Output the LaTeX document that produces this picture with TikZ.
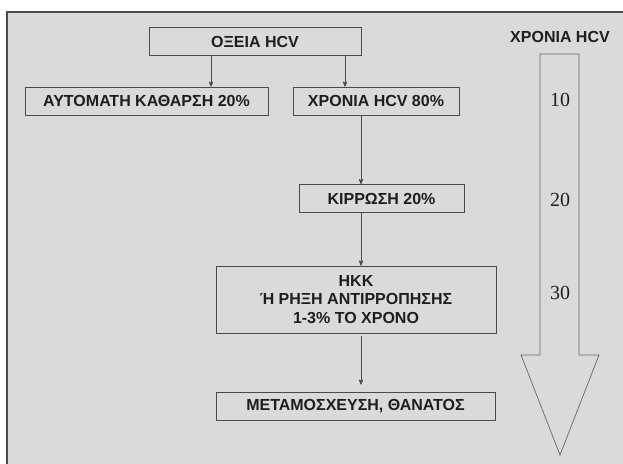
\documentclass[tikz,border=0pt]{standalone}
\usepackage{fontspec}
\setmainfont{Liberation Sans}
\newfontfamily\numfont{Liberation Serif}
\usepackage{tikz}
\usetikzlibrary{arrows}
\definecolor{bg}{HTML}{D9DADC}
\definecolor{boxline}{HTML}{4A4A4A}
\definecolor{ink}{HTML}{1E1E1E}

\begin{document}
\begin{tikzpicture}
    %[x=1pt,y=-1pt,->,>=stealth',every node/.style={draw}]
    [x=1pt,y=-1pt,->,>=stealth',shorten >=0pt,color=boxline,line width=0.8pt,
     every node/.style={rectangle,draw=boxline,fill=bg,text=ink,inner sep=0pt,
       font=\fontsize{16}{18.5}\selectfont\bfseries,minimum height=28pt}]
    \clip (0,0) rectangle (623,463);
    \fill[white] (0,0) rectangle (623,463);
    \draw[-,draw=black!70,fill=bg,line width=1.5pt] (7,12) rectangle (640,480);

    \node[minimum width=212pt] (nacute) at (255,41.5) {ΟΞΕΙΑ HCV};
    \node[minimum width=243pt] (nclear) at (146.5,101) {ΑΥΤΟΜΑΤΗ ΚΑΘΑΡΣΗ 20\%};
    \node[minimum width=166pt] (nchron) at (376,101) {ΧΡΟΝΙΑ HCV 80\%};
    \node[minimum width=165pt] (ncirr) at (381.5,198.5) {ΚΙΡΡΩΣΗ 20\%};
    \node[minimum width=280pt,minimum height=67pt,align=center] (nhcc) at (356,299.5)
      {ΗΚΚ\\Ή ΡΗΞΗ ΑΝΤΙΡΡΟΠΗΣΗΣ\\1-3\% ΤΟ ΧΡΟΝΟ};
    \node[minimum width=279pt] (ntrans) at (355.5,406) {ΜΕΤΑΜΟΣΧΕΥΣΗ, ΘΑΝΑΤΟΣ};
    \coordinate (spine) at (361,0);

    \path ([xshift=-44pt]nacute.south) edge ([xshift=-44pt]nacute.south |- nclear.north);
    \path ([xshift=90pt]nacute.south) edge ([xshift=90pt]nacute.south |- nchron.north);
    \path (nchron.south -| spine) edge (ncirr.north -| spine);
    \path (ncirr.south -| spine) edge (nhcc.north -| spine);
    \path[shorten <=3pt,shorten >=7pt] (nhcc.south -| spine) edge (ntrans.north -| spine);

    \draw[-,draw=black!60,fill=bg,line width=0.7pt] (540,54) -- (579,54) -- (579,355) -- (599,355)
      -- (560,455) -- (521,355) -- (540,355) -- cycle;
    \node[draw=none,fill=none] (nyears) at (560,37) {ΧΡΟΝΙΑ HCV};
    \node[draw=none,fill=none,font=\numfont\fontsize{20}{22}\selectfont] (nten) at (560,100) {10};
    \node[draw=none,fill=none,font=\numfont\fontsize{20}{22}\selectfont] (ntwenty) at (560,200) {20};
    \node[draw=none,fill=none,font=\numfont\fontsize{20}{22}\selectfont] (nthirty) at (560,293) {30};

  \end{tikzpicture}
\end{document}
